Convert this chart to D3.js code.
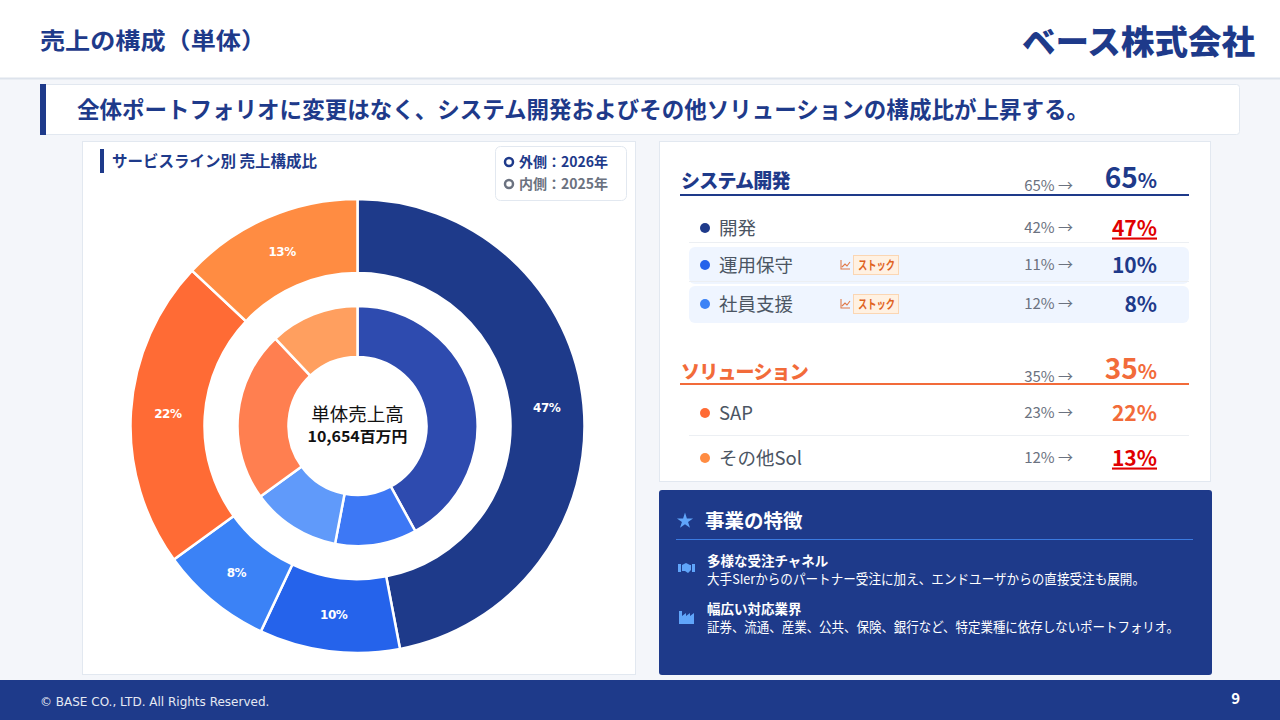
<!DOCTYPE html>
<html lang="ja">
<head>
<meta charset="utf-8">
<script src="https://cdn.jsdelivr.net/npm/d3@7"></script>
<style>
  html, body { margin: 0; padding: 0; background: #f4f6fa; }
  svg { display: block; font-family: "Noto Sans CJK JP", "Noto Sans", sans-serif; }
</style>
</head>
<body>
<div id="chart"></div>
<script>
// Service line shares, 2025 (inner ring) -> 2026 (outer ring)
const segments = ['開発', '運用保守', '社員支援', 'SAP', 'その他Sol'];
const share2025 = [42, 11, 12, 23, 12];
const share2026 = [47, 10, 8, 22, 13];
const groups = ['システム開発', 'ソリューション'];
const groupOf = [0, 0, 0, 1, 1];
const stockItems = ['運用保守', '社員支援'];
const highlightUp = ['開発', 'その他Sol'];
const outerColors = ['#1e3a8a', '#2563eb', '#3b82f6', '#ff6b35', '#ff8c42'];
const innerColors = ['#2e4baf', '#3d78f5', '#609afa', '#ff7f50', '#ff9f5f'];
const features = [
  { title: '多様な受注チャネル', text: '大手SIerからのパートナー受注に加え、エンドユーザからの直接受注も展開。', len: 438 },
  { title: '幅広い対応業界', text: '証券、流通、産業、公共、保険、銀行など、特定業種に依存しないポートフォリオ。', len: 472 }
];

const NAVY = '#1e3a8a', ORANGE = '#f26b3a', RED = '#e00000', GRAY = '#6b7280';
const W = 1280, H = 720;

const svg = d3.select('#chart').append('svg')
  .attr('width', W).attr('height', H).attr('viewBox', `0 0 ${W} ${H}`);

// Background + header
svg.append('rect').attr('width', W).attr('height', H).attr('fill', '#f4f6fa');
svg.append('rect').attr('width', W).attr('height', 78).attr('fill', '#fff');
svg.append('line').attr('x1', 0).attr('x2', W).attr('y1', 78.5).attr('y2', 78.5)
  .attr('stroke', '#dde3ec').attr('stroke-width', 2);
svg.append('text').attr('x', 40).attr('y', 49)
  .attr('font-size', 23).attr('font-weight', 700).attr('fill', NAVY)
  .attr('textLength', 226).attr('lengthAdjust', 'spacingAndGlyphs')
  .text('売上の構成（単体）');
svg.append('text').attr('x', 1022).attr('y', 54)
  .attr('font-size', 33).attr('font-weight', 900).attr('fill', NAVY)
  .attr('textLength', 233).attr('lengthAdjust', 'spacingAndGlyphs')
  .text('ベース株式会社');

// Key message
svg.append('rect').attr('x', 40.5).attr('y', 84.5).attr('width', 1199).attr('height', 50)
  .attr('rx', 3).attr('fill', '#fff').attr('stroke', '#e2e8f0');
svg.append('rect').attr('x', 40).attr('y', 84).attr('width', 6).attr('height', 51).attr('fill', NAVY);
svg.append('text').attr('x', 77).attr('y', 118)
  .attr('font-size', 23).attr('font-weight', 700).attr('fill', NAVY)
  .attr('textLength', 1012).attr('lengthAdjust', 'spacingAndGlyphs')
  .text('全体ポートフォリオに変更はなく、システム開発およびその他ソリューションの構成比が上昇する。');

// Left panel
svg.append('rect').attr('x', 82.5).attr('y', 141.5).attr('width', 553).attr('height', 533)
  .attr('fill', '#fff').attr('stroke', '#e2e8f0');
svg.append('rect').attr('x', 100).attr('y', 149).attr('width', 4).attr('height', 24).attr('fill', NAVY);
svg.append('text').attr('x', 112).attr('y', 167)
  .attr('font-size', 15.5).attr('font-weight', 700).attr('fill', NAVY)
  .text('サービスライン別 売上構成比');

const leg = svg.append('g');
leg.append('rect').attr('x', 495.5).attr('y', 146.5).attr('width', 131).attr('height', 54)
  .attr('rx', 5).attr('fill', '#fff').attr('stroke', '#e2e8f0');
[['外側：2026年', NAVY], ['内側：2025年', GRAY]].forEach(([t, c], i) => {
  const y = 162 + i * 22;
  leg.append('circle').attr('cx', 509).attr('cy', y).attr('r', 4)
    .attr('fill', 'none').attr('stroke', c).attr('stroke-width', 2.5);
  leg.append('text').attr('x', 519).attr('y', y + 5)
    .attr('font-size', 14).attr('font-weight', 700).attr('fill', c).text(t);
});

// Donut
const cx = 357.5, cy = 426;
const pie = d3.pie().sort(null).value(d => d);
const outerArc = d3.arc().innerRadius(153).outerRadius(227);
const innerArc = d3.arc().innerRadius(69).outerRadius(120);
const labelArc = d3.arc().innerRadius(190).outerRadius(190);
const donut = svg.append('g').attr('transform', `translate(${cx},${cy})`);

donut.append('g').selectAll('path').data(pie(share2026)).join('path')
  .attr('d', outerArc).attr('fill', (d, i) => outerColors[i])
  .attr('stroke', '#fff').attr('stroke-width', 2.5);
donut.append('g').selectAll('path').data(pie(share2025)).join('path')
  .attr('d', innerArc).attr('fill', (d, i) => innerColors[i])
  .attr('stroke', '#fff').attr('stroke-width', 2.5);
donut.append('g').selectAll('text').data(pie(share2026)).join('text')
  .attr('transform', d => `translate(${labelArc.centroid(d)})`)
  .attr('text-anchor', 'middle').attr('dy', '0.36em')
  .attr('font-family', '"DejaVu Sans", sans-serif')
  .attr('font-size', 12).attr('font-weight', 700).attr('fill', '#fff')
  .attr('letter-spacing', -0.5)
  .text(d => d.data + '%');

donut.append('text').attr('y', -5).attr('text-anchor', 'middle')
  .attr('font-size', 18.5).attr('fill', '#111').text('単体売上高');
donut.append('text').attr('y', 16).attr('text-anchor', 'middle')
  .attr('font-size', 15).attr('font-weight', 700).attr('fill', '#111')
  .attr('textLength', 100).attr('lengthAdjust', 'spacingAndGlyphs')
  .text('10,654百万円');

// Right panel: breakdown table
svg.append('rect').attr('x', 659.5).attr('y', 141.5).attr('width', 551).attr('height', 340)
  .attr('fill', '#fff').attr('stroke', '#e2e8f0');

const table = svg.append('g');
const groupRows = [
  { y: 186, line: 195, color: NAVY },
  { y: 377, line: 384, color: ORANGE }
];
groups.forEach((g, gi) => {
  const r = groupRows[gi];
  const v25 = d3.sum(share2025.filter((_, i) => groupOf[i] === gi));
  const v26 = d3.sum(share2026.filter((_, i) => groupOf[i] === gi));
  table.append('text').attr('x', 681).attr('y', r.y + 2)
    .attr('font-size', 19).attr('font-weight', 900).attr('fill', r.color)
    .attr('letter-spacing', -0.8).text(g);
  table.append('line').attr('x1', 680).attr('x2', 1189).attr('y1', r.line).attr('y2', r.line)
    .attr('stroke', r.color).attr('stroke-width', 2);
  table.append('text').attr('x', 1073).attr('y', r.y + 5).attr('text-anchor', 'end')
    .attr('font-size', 15).attr('fill', GRAY).text(`${v25}% →`);
  const big = table.append('text').attr('x', 1157).attr('y', r.y + 2).attr('text-anchor', 'end')
    .attr('font-weight', 700).attr('fill', r.color);
  big.append('tspan').attr('font-size', 28).text(v26);
  big.append('tspan').attr('font-size', 20).text('%');
});

const rowY = [228, 265, 304, 413, 458];
segments.forEach((s, i) => {
  const y = rowY[i];
  const isStock = stockItems.includes(s);
  if (isStock) {
    table.append('rect').attr('x', 689).attr('y', y - 18).attr('width', 500).attr('height', 37)
      .attr('rx', 6).attr('fill', '#eff5ff');
  }
  if (i === 1 || i === 2 || i === 4) {
    table.append('line').attr('x1', 689).attr('x2', 1189).attr('y1', y - 22.5).attr('y2', y - 22.5)
      .attr('stroke', '#eceff3');
  }
  const col = groupOf[i] === 0 ? NAVY : ORANGE;
  table.append('circle').attr('cx', 705).attr('cy', y).attr('r', 5).attr('fill', outerColors[i]);
  table.append('text').attr('x', 719).attr('y', y + 6.5)
    .attr('font-size', 18.5).attr('fill', '#4b5563').text(s);
  table.append('text').attr('x', 1073).attr('y', y + 5).attr('text-anchor', 'end')
    .attr('font-size', 15).attr('fill', GRAY).text(`${share2025[i]}% →`);
  const up = highlightUp.includes(s);
  table.append('text').attr('x', 1157).attr('y', y + 7.5).attr('text-anchor', 'end')
    .attr('font-size', 21).attr('font-weight', 700)
    .attr('fill', up ? RED : col)
    .attr('text-decoration', up ? 'underline' : null)
    .text(share2026[i] + '%');
  if (isStock) {
    const b = table.append('g').attr('transform', `translate(840,${y})`);
    b.append('path').attr('d', 'M1,-5 V4 H10 M2,2 L5,-1 L7,1 L10,-3')
      .attr('fill', 'none').attr('stroke', '#e07a4a').attr('stroke-width', 1.1);
    b.append('rect').attr('x', 13.5).attr('y', -9.5).attr('width', 45).attr('height', 19)
      .attr('fill', '#fff1e2').attr('stroke', '#fbd6b3');
    b.append('text').attr('x', 18).attr('y', 4.5)
      .attr('font-size', 12.5).attr('font-weight', 700).attr('fill', '#e0621f')
      .attr('textLength', 37).attr('lengthAdjust', 'spacingAndGlyphs').text('ストック');
  }
});

// Right panel: features
svg.append('rect').attr('x', 659).attr('y', 490).attr('width', 553).attr('height', 185)
  .attr('rx', 3).attr('fill', NAVY);
const feat = svg.append('g');
feat.append('path').attr('d', d3.symbol(d3.symbolStar, 80)())
  .attr('transform', 'translate(685,521)').attr('fill', '#60a5fa');
feat.append('text').attr('x', 705).attr('y', 528)
  .attr('font-size', 19.5).attr('font-weight', 700).attr('fill', '#fff').text('事業の特徴');
feat.append('line').attr('x1', 676).attr('x2', 1193).attr('y1', 539.5).attr('y2', 539.5)
  .attr('stroke', '#3b7ae0').attr('stroke-width', 1.2);

// handshake-like and factory icons
feat.append('path').attr('transform', 'translate(678,562)')
  .attr('d', 'M0,2 H3 V10 H0 Z M14,2 H17 V10 H14 Z M4,3 L8,1 L12,3 L13,3 V8 L10,11 L7,9 L4,9 Z')
  .attr('fill', '#60a5fa');
feat.append('path').attr('transform', 'translate(679,610)')
  .attr('d', 'M0,14 V1 H3 V6 L7,3 V6 L11,3 V6 L15,3 V14 Z')
  .attr('fill', '#60a5fa');
features.forEach((f, i) => {
  const y = 566 + i * 48;
  feat.append('text').attr('x', 707).attr('y', y)
    .attr('font-size', 13.5).attr('font-weight', 700).attr('fill', '#fff').text(f.title);
  feat.append('text').attr('x', 707).attr('y', y + 18)
    .attr('font-size', 13.5).attr('fill', '#fff')
    .attr('textLength', f.len).attr('lengthAdjust', 'spacingAndGlyphs').text(f.text);
});

// Footer
svg.append('rect').attr('x', 0).attr('y', 680).attr('width', W).attr('height', 40).attr('fill', NAVY);
svg.append('text').attr('x', 40).attr('y', 706)
  .attr('font-size', 12).attr('fill', '#e5e9f3').attr('font-family', 'Tahoma, "DejaVu Sans", sans-serif')
  .text('© BASE CO., LTD. All Rights Reserved.');
svg.append('text').attr('x', 1240).attr('y', 704).attr('text-anchor', 'end')
  .attr('font-size', 15).attr('font-weight', 700).attr('fill', '#fff').text('9');
</script>
</body>
</html>
